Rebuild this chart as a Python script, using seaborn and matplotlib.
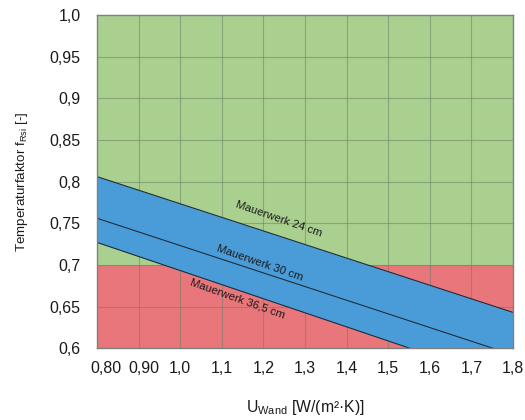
import numpy as np
import pandas as pd
import seaborn as sns
import matplotlib
matplotlib.use("Agg")
import matplotlib.pyplot as plt
import matplotlib.transforms as mtransforms

# ---- data ----
u_wand = [0.80, 1.80]
f_24 = [0.806, 0.643]
f_30 = [0.756, 0.592]
f_365 = [0.727, 0.558]
line_labels = ["Mauerwerk 24 cm", "Mauerwerk 30 cm", "Mauerwerk 36,5 cm"]
threshold = 0.70
x_ticks = [0.80, 0.90, 1.0, 1.1, 1.2, 1.3, 1.4, 1.5, 1.6, 1.7, 1.8]
x_ticklabels = ["0,80", "0,90", "1,0", "1,1", "1,2", "1,3", "1,4", "1,5", "1,6", "1,7", "1,8"]
y_ticks = [0.6, 0.65, 0.7, 0.75, 0.8, 0.85, 0.9, 0.95, 1.0]
y_ticklabels = ["0,6", "0,65", "0,7", "0,75", "0,8", "0,85", "0,9", "0,95", "1,0"]

sns.set_theme(style="white")
plt.rcParams['font.family'] = ['Liberation Sans', 'DejaVu Sans']
plt.rcParams['mathtext.fontset'] = 'custom'
plt.rcParams['mathtext.rm'] = 'Liberation Sans'

df = pd.DataFrame({
    "U": u_wand * 3,
    "f": f_24 + f_30 + f_365,
    "wall": [line_labels[0]] * 2 + [line_labels[1]] * 2 + [line_labels[2]] * 2,
})

fig = plt.figure(figsize=(5.25, 4.2), dpi=100)
ax = fig.add_axes([0.185, 0.171, 0.792, 0.793])

green = "#a9d08e"
red = "#e8767a"
blue = "#4a9cd8"

xmin, xmax = x_ticks[0], x_ticks[-1]
ymin, ymax = y_ticks[0], y_ticks[-1]
ax.axhspan(threshold, ymax, color=green, lw=0, zorder=0)
ax.axhspan(ymin, threshold, color=red, lw=0, zorder=0)

# grid
for xv in x_ticks[1:-1]:
    ax.axvline(xv, color="#6f7f6a", lw=0.8, alpha=0.55, zorder=1)
for yv in y_ticks[1:-1]:
    ax.axhline(yv, color="#6f7f6a", lw=0.8, alpha=0.55, zorder=1)

ax.fill_between(u_wand, f_365, f_24, color=blue, lw=0, zorder=2)

sns.lineplot(data=df, x="U", y="f", units="wall", estimator=None,
             color="#1f2d3a", lw=0.8, ax=ax, zorder=3, legend=False)

ax.set_xlim(xmin, xmax)
ax.set_ylim(ymin, ymax)
ax.set_xticks(x_ticks)
ax.set_xticklabels(x_ticklabels, fontsize=11.5, color="#1a1a1a")
ax.set_yticks(y_ticks)
ax.set_yticklabels(y_ticklabels, fontsize=11.5, color="#1a1a1a")
ax.tick_params(axis="y", length=0, pad=12)
ax.tick_params(axis="x", length=0, pad=9)
# nudge the first two x labels to the right as in the reference
for lab, dx in zip(ax.get_xticklabels()[:2], [9, 5]):
    lab.set_transform(lab.get_transform() +
                      mtransforms.ScaledTranslation(dx / 100, 0, fig.dpi_scale_trans))
ax.set_xlabel(r"U$_\mathregular{Wand}$ [W/(m²·K)]", fontsize=11.3, labelpad=16, color="#1a1a1a")
ax.set_ylabel(r"Temperaturfaktor f$_\mathregular{Rsi}$ [-]", fontsize=9.6, labelpad=14, color="#1a1a1a")
for s in ax.spines.values():
    s.set_color("#808080")
    s.set_linewidth(1.0)
    s.set_zorder(5)

# labels along lines
def slope_angle(y):
    p1 = ax.transData.transform((u_wand[0], y[0]))
    p2 = ax.transData.transform((u_wand[1], y[1]))
    return np.degrees(np.arctan2(p2[1] - p1[1], p2[0] - p1[0]))

def y_at(y, x):
    return y[0] + (y[1] - y[0]) * (x - u_wand[0]) / (u_wand[1] - u_wand[0])

for ys, xpos, off, lab in [(f_24, 1.238, 0.021, line_labels[0]),
                           (f_30, 1.192, 0.011, line_labels[1]),
                           (f_365, 1.137, -0.011, line_labels[2])]:
    ax.text(xpos, y_at(ys, xpos) + off, lab, rotation=slope_angle(ys) - 1,
            rotation_mode="anchor", ha="center", va="center",
            fontsize=8.2, color="#1a1a1a", zorder=6)

fig.savefig("out.png", dpi=100)
